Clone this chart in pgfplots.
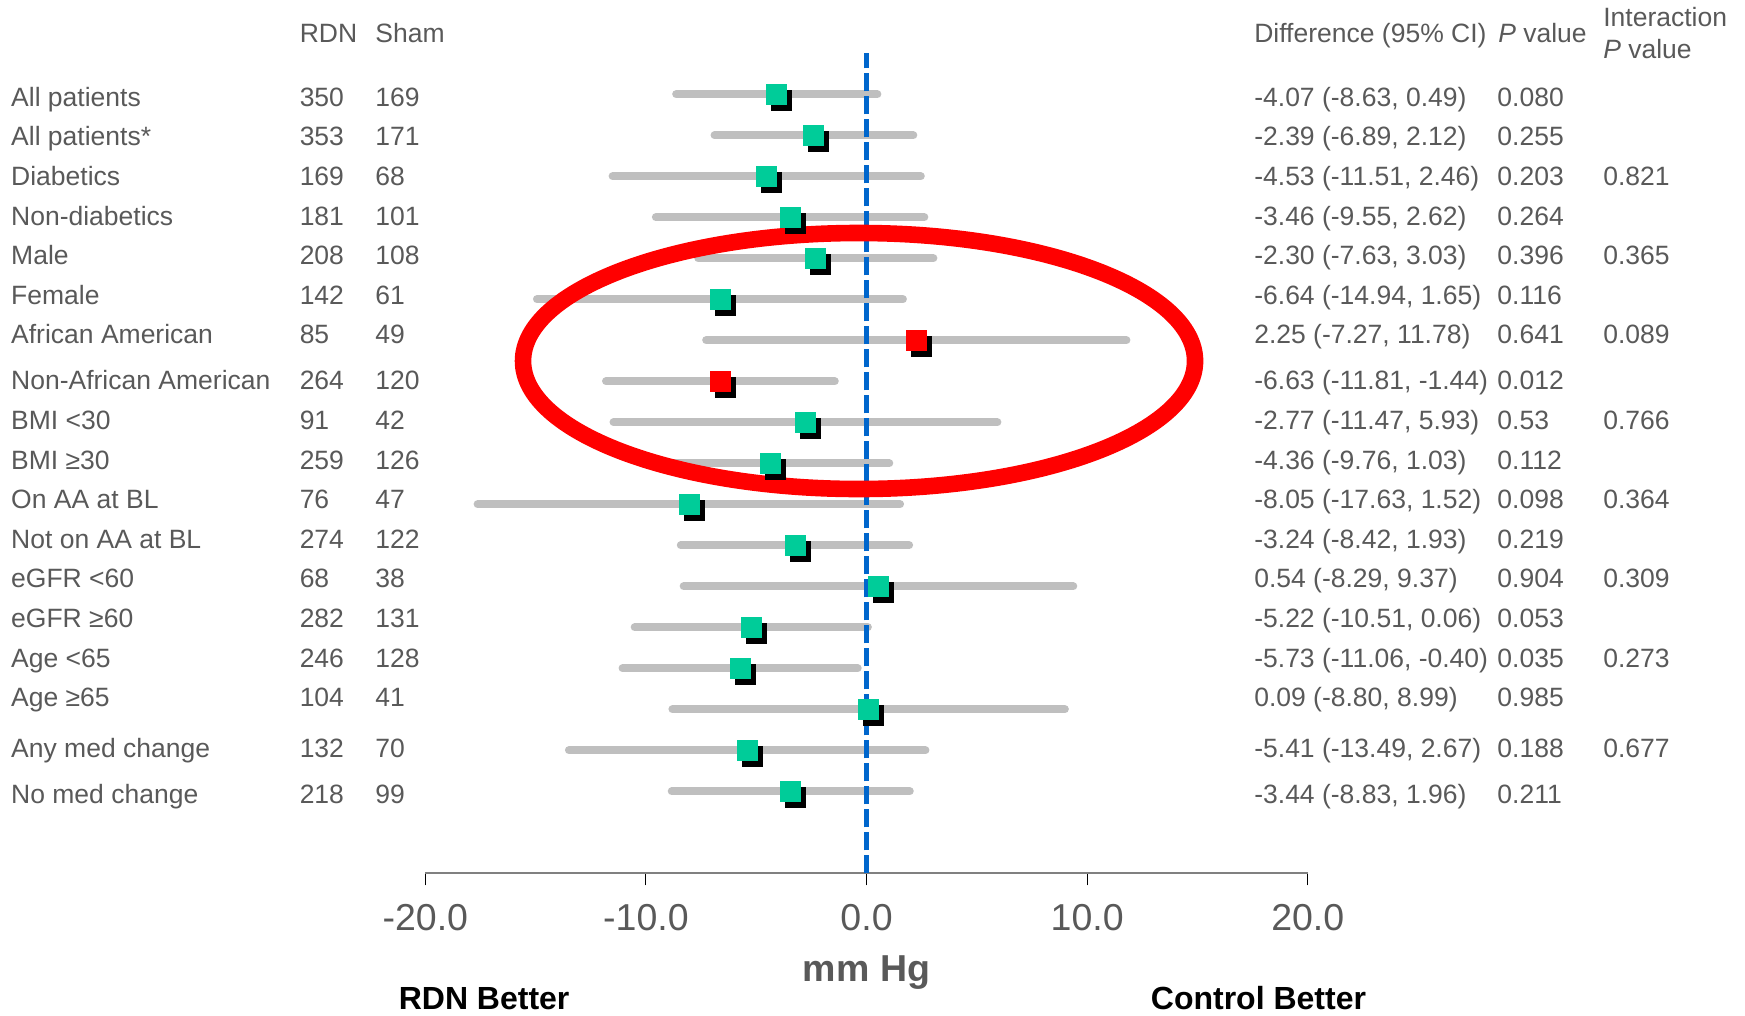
\documentclass[border=0pt]{standalone}
\usepackage{fontspec}
\setmainfont{Liberation Sans}
\usepackage{pgfplots}
\usepackage{pgfplotstable}
\pgfplotsset{compat=1.18}
\definecolor{tg}{HTML}{595959}
\definecolor{barg}{HTML}{BFBFBF}
\definecolor{grn}{HTML}{00CC99}
\definecolor{blu}{HTML}{0066CC}
\definecolor{axg}{HTML}{808080}
\newcommand{\rowfont}{\fontsize{13.25pt}{15pt}\selectfont}
\newcommand{\tickfont}{\fontsize{18.75pt}{21pt}\selectfont}
\newcommand{\btfont}{\fontsize{16pt}{18pt}\selectfont\bfseries}

% pos = vertical slot (17 = top row), mean difference and 95% CI
\pgfplotstableread{
pos mean lo hi
17 -4.07 -8.63 0.49
16 -2.39 -6.89 2.12
15 -4.53 -11.51 2.46
14 -3.46 -9.55 2.62
13 -2.30 -7.63 3.03
12 -6.64 -14.94 1.65
9 -2.77 -11.47 5.93
8 -4.36 -9.76 1.03
7 -8.05 -17.63 1.52
6 -3.24 -8.42 1.93
5 0.54 -8.29 9.37
4 -5.22 -10.51 0.06
3 -5.73 -11.06 -0.40
2 0.09 -8.80 8.99
1 -5.41 -13.49 2.67
0 -3.44 -8.83 1.96
}\cigreen
\pgfplotstableread{
pos mean lo hi
11 2.25 -7.27 11.78
10 -6.63 -11.81 -1.44
}\cired

\tikzset{rowt/.style={anchor=base west, inner sep=0pt, font=\rowfont, text=tg}}
\newcommand{\R}[7]{%
  \node[rowt] at (axis cs:-38.79,#1) {#2};
  \node[rowt] at (axis cs:-25.71,#1) {#3};
  \node[rowt] at (axis cs:-22.28,#1) {#4};
  \node[rowt] at (axis cs:17.56,#1) {#5};
  \node[rowt] at (axis cs:28.58,#1) {#6};
  \node[rowt] at (axis cs:33.38,#1) {#7};
}

\begin{document}
\begin{tikzpicture}
\begin{axis}[
  x=11.03pt, y=20.5pt,
  xmin=-20, xmax=20, ymin=-2, ymax=18.01,
  clip=false,
  axis x line=bottom, axis y line=none,
  x axis line style={-, draw=axg, line width=1pt},
  xtick={-20,-10,0,10,20},
  xticklabels={-20.0,-10.0,0.0,10.0,20.0},
  tick align=outside, major tick length=6pt,
  xtick style={draw=black, line width=0.5pt},
  xticklabel style={font=\tickfont, text=tg, inner sep=0pt, anchor=north, yshift=-9.5pt},
  xlabel={mm Hg},
  xlabel style={at={(axis description cs:0.5,-0.1314)}, anchor=base, inner sep=0pt, font=\tickfont\bfseries, text=tg},
]
% bounding frame of the whole figure
\path (axis cs:-39.28,19.30) rectangle (axis cs:39.82,-5.456);

% confidence interval bars
\addplot[only marks, mark=none, error bars/.cd, x dir=both, x explicit, error mark=none,
  error bar style={draw=barg, line width=4pt, line cap=round, solid}]
  table[x=mean, y=pos, x error plus expr=\thisrow{hi}-\thisrow{mean}, x error minus expr=\thisrow{mean}-\thisrow{lo}] {\cigreen};
\addplot[only marks, mark=none, error bars/.cd, x dir=both, x explicit, error mark=none,
  error bar style={draw=barg, line width=4pt, line cap=round, solid}]
  table[x=mean, y=pos, x error plus expr=\thisrow{hi}-\thisrow{mean}, x error minus expr=\thisrow{mean}-\thisrow{lo}] {\cired};

% zero line
\addplot[blu, line width=2.25pt, dash pattern=on 9pt off 2.5pt] coordinates {(0,-2) (0,18.01)};

% highlight ellipse
\draw[red, line width=8.3pt] (axis cs:-0.34,10.495) ellipse [x radius=168pt, y radius=64pt];

% shadows
\addplot[only marks, mark=square*, mark size=5pt, draw=black, fill=black, mark options={xshift=2.5pt, yshift=-3pt}]
  table[x=mean, y=pos] {\cigreen};
\addplot[only marks, mark=square*, mark size=5pt, draw=black, fill=black, mark options={xshift=2.5pt, yshift=-3pt}]
  table[x=mean, y=pos] {\cired};
% markers
\addplot[only marks, mark=square*, mark size=5pt, draw=grn, fill=grn] table[x=mean, y=pos] {\cigreen};
\addplot[only marks, mark=square*, mark size=5pt, draw=red, fill=red] table[x=mean, y=pos] {\cired};

% headers
\node[rowt] at (axis cs:-25.71,18.254) {RDN};
\node[rowt] at (axis cs:-22.28,18.254) {Sham};
\node[rowt] at (axis cs:17.56,18.254) {Difference (95\% CI)};
\node[rowt] at (axis cs:28.62,18.254) {\textit{P} value};
\node[rowt] at (axis cs:33.38,18.661) {Interaction};
\node[rowt] at (axis cs:33.38,17.873) {\textit{P} value};

% rows
\R{16.707}{All patients}{350}{169}{-4.07 (-8.63, 0.49)}{0.080}{}
\R{15.756}{All patients*}{353}{171}{-2.39 (-6.89, 2.12)}{0.255}{}
\R{14.780}{Diabetics}{169}{68}{-4.53 (-11.51, 2.46)}{0.203}{0.821}
\R{13.802}{Non-diabetics}{181}{101}{-3.46 (-9.55, 2.62)}{0.264}{}
\R{12.851}{Male}{208}{108}{-2.30 (-7.63, 3.03)}{0.396}{0.365}
\R{11.876}{Female}{142}{61}{-6.64 (-14.94, 1.65)}{0.116}{}
\R{10.934}{African American}{85}{49}{2.25 (-7.27, 11.78)}{0.641}{0.089}
\R{9.812}{Non-African American}{264}{120}{-6.63 (-11.81, -1.44)}{0.012}{}
\R{8.829}{BMI <30}{91}{42}{-2.77 (-11.47, 5.93)}{0.53}{0.766}
\R{7.854}{BMI ≥30}{259}{126}{-4.36 (-9.76, 1.03)}{0.112}{}
\R{6.907}{On AA at BL}{76}{47}{-8.05 (-17.63, 1.52)}{0.098}{0.364}
\R{5.932}{Not on AA at BL}{274}{122}{-3.24 (-8.42, 1.93)}{0.219}{}
\R{4.980}{eGFR <60}{68}{38}{0.54 (-8.29, 9.37)}{0.904}{0.309}
\R{4.002}{eGFR ≥60}{282}{131}{-5.22 (-10.51, 0.06)}{0.053}{}
\R{3.032}{Age <65}{246}{128}{-5.73 (-11.06, -0.40)}{0.035}{0.273}
\R{2.080}{Age ≥65}{104}{41}{0.09 (-8.80, 8.99)}{0.985}{}
\R{0.824}{Any med change}{132}{70}{-5.41 (-13.49, 2.67)}{0.188}{0.677}
\R{-0.298}{No med change}{218}{99}{-3.44 (-8.83, 1.96)}{0.211}{}

% direction labels
\node[anchor=base west, inner sep=0pt, font=\btfont] at (axis cs:-21.22,-5.32) {RDN Better};
\node[anchor=base east, inner sep=0pt, font=\btfont] at (axis cs:22.66,-5.32) {Control Better};
\end{axis}
\end{tikzpicture}
\end{document}
